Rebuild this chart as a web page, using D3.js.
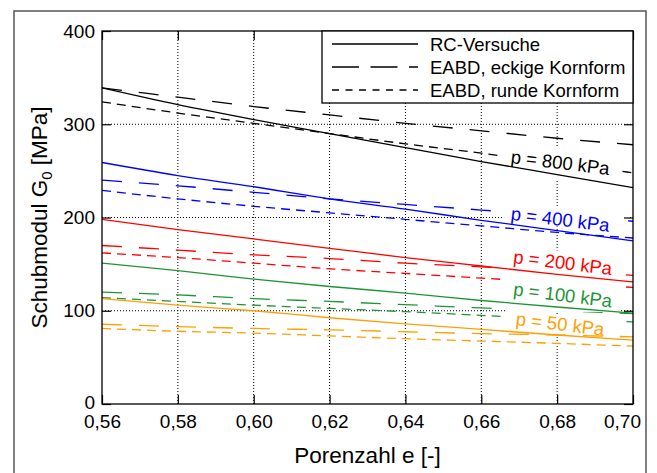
<!DOCTYPE html>
<html><head><meta charset="utf-8">
<script src="https://cdn.jsdelivr.net/npm/d3@7"></script>
<style>
body{margin:0;background:#fff}
svg{display:block}
text{font-family:"Liberation Sans",Arial,Helvetica,sans-serif;fill:#000}
</style>
</head><body>
<svg id="chart" width="657" height="473"></svg>
<script>
// ---------- DATA ----------
const porenzahl = [0.56, 0.58, 0.60, 0.62, 0.64, 0.66, 0.68, 0.70];
const xTicks = [0.56, 0.58, 0.60, 0.62, 0.64, 0.66, 0.68, 0.70];
const yTicks = [0, 100, 200, 300, 400];

// RC-Versuche (solid)
const rc800 = [339, 321, 305, 290, 275, 260, 246, 232];
const rc400 = [259, 245, 233, 220, 209, 197, 186, 175];
const rc200 = [198, 187, 177, 167, 157, 148, 139, 131];
const rc100 = [151, 143, 134, 126, 119, 111, 104, 97.5];
const rc50  = [113, 106, 100, 92.5, 86, 80, 74, 68.5];

// EABD, eckige Kornform (long dash)
const eckig800 = [339, 329, 319, 310, 301, 293, 285, 278];
const eckig400 = [240, 234, 227, 220, 214, 208, 202, 196];
const eckig200 = [170, 165, 160, 156, 151, 147, 143, 138];
const eckig100 = [120, 117, 113, 110, 106.5, 103, 100, 97];
const eckig50  = [85.5, 83, 81, 79.5, 77.5, 75.5, 74, 72];

// EABD, runde Kornform (short dash)
const rund800 = [324, 312, 301, 290, 279, 269, 258, 248];
const rund400 = [229, 220, 212, 205, 198, 191, 184, 178];
const rund200 = [162, 157, 151, 145, 140, 135, 130, 125];
const rund100 = [114, 110, 106, 102.5, 99, 95, 91.5, 88];
const rund50  = [81, 78, 76, 73, 70, 67.5, 65, 62];

const pressureLabels = ["p = 800 kPa", "p = 400 kPa", "p = 200 kPa", "p = 100 kPa", "p = 50 kPa"];
const labelE = [0.6808, 0.6808, 0.6815, 0.6815, 0.6808];
const labelG = [259, 198, 151.7, 117, 85.8];

const legendLabels = ["RC-Versuche", "EABD, eckige Kornform", "EABD, runde Kornform"];

// ---------- STYLE / LAYOUT ----------
const colors = ["#000000", "#0000ff", "#ff0000", "#1e9535", "#ff9f00"];
const dashLong = "20,17", dashShort = "9,6";
const labelBoxes = [ [-58, 62, -15, 18], [-56, 68, -13, 7], [-58, 63, -12, 26], [-56, 56, -8, 17], [-55, 65, -9, 8] ];

const svg = d3.select("#chart");
const L = 102, R = 633, T = 31, B = 404;
const x = d3.scaleLinear().domain([0.56, 0.70]).range([L, R]);
const y = d3.scaleLinear().domain([0, 400]).range([B, T]);

// outer frame
svg.append("rect").attr("x", 14).attr("y", 11).attr("width", 632).attr("height", 500)
  .attr("fill", "none").attr("stroke", "#555").attr("stroke-width", 1.5);

svg.append("defs").append("clipPath").attr("id", "clip")
  .append("rect").attr("x", L).attr("y", T).attr("width", R - L).attr("height", B - T);

// grid
const grid = svg.append("g");
xTicks.slice(1, -1).forEach(v => grid.append("line")
  .attr("x1", x(v)).attr("x2", x(v)).attr("y1", T).attr("y2", B)
  .attr("stroke", "#000").attr("stroke-width", 1).attr("stroke-dasharray", "1,2"));
yTicks.slice(1, -1).forEach(v => grid.append("line")
  .attr("x1", L).attr("x2", R).attr("y1", y(v)).attr("y2", y(v))
  .attr("stroke", "#000").attr("stroke-width", 1).attr("stroke-dasharray", "1,2"));

const line = d3.line().x((d, i) => x(porenzahl[i])).y(d => y(d)).curve(d3.curveMonotoneX);

const rcSeries = [rc800, rc400, rc200, rc100, rc50];
const eckigSeries = [eckig800, eckig400, eckig200, eckig100, eckig50];
const rundSeries = [rund800, rund400, rund200, rund100, rund50];

const dashG = svg.append("g").attr("clip-path", "url(#clip)");
eckigSeries.forEach((s, i) => dashG.append("path").attr("d", line(s))
  .attr("fill", "none").attr("stroke", colors[i]).attr("stroke-width", 1.3).attr("stroke-dasharray", dashLong));
rundSeries.forEach((s, i) => dashG.append("path").attr("d", line(s))
  .attr("fill", "none").attr("stroke", colors[i]).attr("stroke-width", 1.3).attr("stroke-dasharray", dashShort));

// label boxes
const boxG = svg.append("g");
pressureLabels.forEach((t, i) => {
  const cx = x(labelE[i]), cy = y(labelG[i]), b = labelBoxes[i];
  boxG.append("rect").attr("x", cx + b[0]).attr("y", cy + b[2])
    .attr("width", b[1] - b[0]).attr("height", b[3] - b[2]).attr("fill", "#fff");
});

const solidG = svg.append("g").attr("clip-path", "url(#clip)");
rcSeries.forEach((s, i) => solidG.append("path").attr("d", line(s))
  .attr("fill", "none").attr("stroke", colors[i]).attr("stroke-width", 1.3));

// labels
const labG = svg.append("g");
pressureLabels.forEach((t, i) => {
  labG.append("text").text(t)
    .attr("transform", `translate(${x(labelE[i])},${y(labelG[i])}) rotate(7)`)
    .attr("text-anchor", "middle").attr("dominant-baseline", "central")
    .style("font-size", "18.5px").style("fill", colors[i]);
});

// axes
const fmt = d => d3.format(".2f")(d).replace(".", ",");
const xAxis = svg.append("g").attr("transform", `translate(0,${B})`)
  .call(d3.axisBottom(x).tickValues(xTicks).tickSize(-9).tickPadding(11).tickFormat(fmt));
const yAxis = svg.append("g").attr("transform", `translate(${L},0)`)
  .call(d3.axisLeft(y).tickValues(yTicks).tickSize(-9).tickPadding(7).tickFormat(d3.format("d")));
const xTop = svg.append("g").attr("transform", `translate(0,${T})`)
  .call(d3.axisTop(x).tickValues(xTicks).tickSize(-9).tickFormat(""));
const yRight = svg.append("g").attr("transform", `translate(${R},0)`)
  .call(d3.axisRight(y).tickValues(yTicks).tickSize(-9).tickFormat(""));
[xAxis, yAxis, xTop, yRight].forEach(a => {
  a.select(".domain").remove();
  a.selectAll("line").attr("stroke", "#000").attr("stroke-width", 1.2);
  a.selectAll("text").style("font-size", "19px").style("font-family", '"Liberation Sans",Arial,sans-serif').attr("fill", "#000");
});
xAxis.selectAll(".tick text").filter(d => d === 0.70).attr("dx", -11);
yAxis.selectAll(".tick text").filter(d => d === 0).attr("y", -2);

svg.append("rect").attr("x", L).attr("y", T).attr("width", R - L).attr("height", B - T)
  .attr("fill", "none").attr("stroke", "#000").attr("stroke-width", 1.3);

// axis titles
svg.append("text").attr("x", (L + R) / 2).attr("y", 463).attr("text-anchor", "middle")
  .style("font-size", "22.5px").text("Porenzahl e [-]");
const yt = svg.append("text").attr("transform", `translate(47,${(T + B) / 2}) rotate(-90)`)
  .attr("text-anchor", "middle").style("font-size", "22.5px");
yt.append("tspan").text("Schubmodul G");
yt.append("tspan").text("0").style("font-size", "15px").attr("dy", 5);
yt.append("tspan").text(" [MPa]").attr("dy", -5);

// legend
const lg = svg.append("g");
lg.append("rect").attr("x", 322).attr("y", T).attr("width", R - 322).attr("height", 72)
  .attr("fill", "#fff").attr("stroke", "#000").attr("stroke-width", 1.3);
const legDash = [null, "27,11.5", "7,6.5"];
const legY = [44, 67, 90];
legendLabels.forEach((t, i) => {
  lg.append("line").attr("x1", 332).attr("x2", 418).attr("y1", legY[i]).attr("y2", legY[i])
    .attr("stroke", "#000").attr("stroke-width", 1.3).attr("stroke-dasharray", legDash[i]);
  lg.append("text").attr("x", 430).attr("y", legY[i]).attr("dominant-baseline", "central")
    .style("font-size", "18.5px").text(t);
});
</script>
</body></html>
